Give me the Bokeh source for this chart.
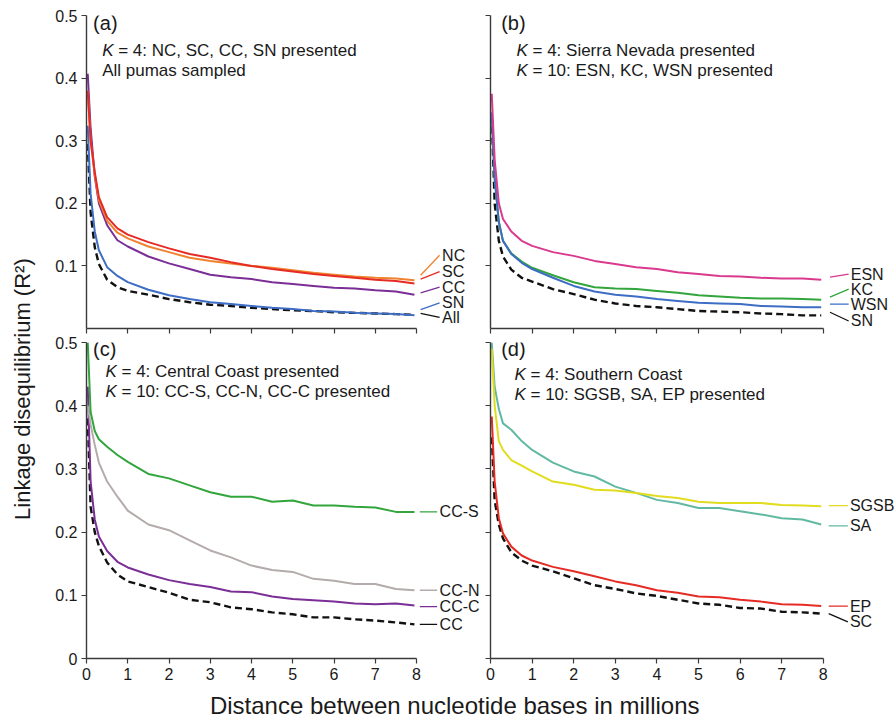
from bokeh.plotting import figure
from bokeh.models import Label, FixedTicker, NumeralTickFormatter, Range1d, CustomJSTickFormatter
from bokeh.layouts import row, column
from bokeh.embed import file_html
from bokeh.resources import INLINE

# ---------------- data ----------------
X = [0.03, 0.1, 0.2, 0.3, 0.5, 0.75, 1, 1.5, 2, 2.5, 3, 3.5, 4, 4.5, 5, 5.5, 6, 6.5, 7, 7.5, 7.95]
X_TICKS = [0, 1, 2, 3, 4, 5, 6, 7, 8]
Y_TICKS_TOP = [0.1, 0.2, 0.3, 0.4, 0.5]
Y_TICKS_BOTTOM = [0, 0.1, 0.2, 0.3, 0.4, 0.5]

# (a) K = 4, all pumas
A_NC = [0.38, 0.30, 0.245, 0.205, 0.172, 0.153, 0.144, 0.131, 0.122, 0.113, 0.108, 0.104, 0.100, 0.097, 0.093, 0.089, 0.086, 0.083, 0.081, 0.080, 0.077]
A_SC = [0.38, 0.30, 0.250, 0.210, 0.178, 0.160, 0.150, 0.138, 0.128, 0.119, 0.113, 0.106, 0.100, 0.095, 0.091, 0.087, 0.084, 0.081, 0.078, 0.076, 0.072]
A_CC = [0.407, 0.32, 0.243, 0.200, 0.165, 0.141, 0.131, 0.115, 0.104, 0.095, 0.086, 0.082, 0.079, 0.074, 0.071, 0.068, 0.065, 0.064, 0.061, 0.059, 0.054]
A_SN = [0.324, 0.215, 0.155, 0.125, 0.098, 0.084, 0.074, 0.062, 0.053, 0.047, 0.042, 0.039, 0.036, 0.033, 0.031, 0.028, 0.027, 0.025, 0.024, 0.023, 0.021]
A_ALL = [0.295, 0.185, 0.130, 0.103, 0.078, 0.066, 0.060, 0.054, 0.047, 0.042, 0.038, 0.036, 0.033, 0.031, 0.029, 0.028, 0.026, 0.025, 0.024, 0.023, 0.022]

# (b) Sierra Nevada
B_ESN = [0.375, 0.27, 0.200, 0.175, 0.155, 0.140, 0.132, 0.122, 0.116, 0.108, 0.103, 0.098, 0.095, 0.090, 0.087, 0.084, 0.083, 0.081, 0.080, 0.080, 0.078]
B_KC = [0.345, 0.24, 0.170, 0.140, 0.120, 0.107, 0.097, 0.085, 0.074, 0.066, 0.064, 0.063, 0.060, 0.057, 0.053, 0.051, 0.049, 0.048, 0.048, 0.047, 0.046]
B_WSN = [0.345, 0.24, 0.170, 0.140, 0.119, 0.105, 0.095, 0.081, 0.068, 0.059, 0.054, 0.051, 0.047, 0.044, 0.041, 0.040, 0.039, 0.036, 0.035, 0.034, 0.034]
B_SN = [0.34, 0.20, 0.140, 0.115, 0.094, 0.081, 0.075, 0.063, 0.055, 0.046, 0.040, 0.036, 0.034, 0.031, 0.028, 0.027, 0.026, 0.024, 0.023, 0.021, 0.021]

# (c) Central Coast
C_CCS = [0.50, 0.39, 0.360, 0.347, 0.335, 0.322, 0.311, 0.292, 0.285, 0.274, 0.263, 0.256, 0.256, 0.248, 0.250, 0.242, 0.242, 0.240, 0.239, 0.232, 0.232]
C_CCN = [0.40, 0.37, 0.338, 0.310, 0.280, 0.256, 0.234, 0.212, 0.203, 0.187, 0.171, 0.160, 0.147, 0.140, 0.137, 0.126, 0.123, 0.118, 0.118, 0.110, 0.108]
C_CCC = [0.43, 0.28, 0.220, 0.193, 0.170, 0.153, 0.144, 0.133, 0.124, 0.118, 0.113, 0.106, 0.105, 0.098, 0.094, 0.092, 0.090, 0.087, 0.086, 0.087, 0.084]
C_CC = [0.38, 0.24, 0.200, 0.178, 0.152, 0.133, 0.122, 0.113, 0.104, 0.093, 0.089, 0.081, 0.078, 0.073, 0.070, 0.065, 0.065, 0.062, 0.060, 0.057, 0.054]

# (d) Southern Coast
D_SGSB = [0.49, 0.40, 0.344, 0.330, 0.314, 0.305, 0.296, 0.280, 0.275, 0.267, 0.266, 0.262, 0.257, 0.254, 0.248, 0.246, 0.246, 0.246, 0.243, 0.242, 0.241]
D_SA = [0.50, 0.43, 0.395, 0.372, 0.362, 0.344, 0.330, 0.310, 0.296, 0.288, 0.272, 0.262, 0.251, 0.246, 0.238, 0.238, 0.233, 0.228, 0.222, 0.220, 0.212]
D_EP = [0.383, 0.28, 0.222, 0.198, 0.177, 0.163, 0.155, 0.145, 0.138, 0.130, 0.122, 0.116, 0.108, 0.104, 0.098, 0.097, 0.093, 0.090, 0.086, 0.085, 0.083]
D_SC = [0.35, 0.25, 0.212, 0.190, 0.168, 0.155, 0.147, 0.138, 0.127, 0.116, 0.110, 0.103, 0.099, 0.093, 0.087, 0.085, 0.080, 0.079, 0.074, 0.073, 0.071]

FONT = "Liberation Sans"
AXC = "#3a3a3a"
TXT = "#1a1a1a"
BLACK = "#111111"

ORANGE = "#F0822F"
RED = "#E62B25"
PURPLE = "#7A2E96"
BLUE = "#3D6DC4"
MAGENTA = "#D93A8E"
GREEN = "#32A53C"
GRAY = "#B4ABAB"
YELLOW = "#E2DC1E"
TEAL = "#62B9A2"

# layout geometry (pixels)
YLAB_W = 48
LEFT_W = 436
RIGHT_W = 412
LEFT_B = 38
RIGHT_B = 6
TOP_H = 335
BOT_H = 353
XT_H = 33
PX_LEFT = 41.25   # pixels per x unit, left column
PX_RIGHT = 41.6   # pixels per x unit, right column


def panel(width, height, left, top, bottom, xend, yticks, xlabels, ylabels):
    p = figure(width=width, height=height, x_range=Range1d(0, xend), y_range=Range1d(0, 0.5),
               output_backend="svg", toolbar_location=None,
               min_border_left=left, min_border_right=0, min_border_top=top, min_border_bottom=bottom)
    p.grid.visible = False
    p.outline_line_color = None
    for ax, ticks, show in ((p.xaxis[0], X_TICKS, xlabels), (p.yaxis[0], yticks, ylabels)):
        ax.ticker = FixedTicker(ticks=ticks)
        ax.axis_line_color = AXC
        ax.axis_line_width = 1.4
        ax.major_tick_line_color = AXC
        ax.major_tick_line_width = 1.2
        ax.major_tick_out = 5
        ax.major_tick_in = 0
        ax.minor_tick_line_color = None
        ax.major_label_text_font = FONT
        ax.major_label_text_color = TXT
        if show:
            ax.major_label_text_font_size = "16px"
            ax.major_label_standoff = 4
        else:
            ax.formatter = CustomJSTickFormatter(code="return ''")
            ax.major_label_text_font_size = "0px"
            ax.major_label_standoff = 0
    p.xaxis[0].bounds = (0, 8)
    p.yaxis[0].bounds = (0, 0.5)
    if ylabels:
        p.yaxis[0].formatter = NumeralTickFormatter(format="0.[0]")
    return p


def add_text(p, x, y, text, size="17px", style="normal", align="left"):
    p.add_layout(Label(x=x, y=y, text=text, text_font=FONT, text_font_size=size,
                       text_font_style=style, text_color=TXT, text_align=align,
                       text_baseline="middle"))


def k_line(p, x, dx, y, rest):
    add_text(p, x, y, "K", style="italic")
    add_text(p, x + dx, y, rest)


def curve(p, ys, color, dashed=False):
    if dashed:
        p.line(X, ys, line_color=BLACK, line_width=2.4, line_dash="7 4")
    else:
        p.line(X, ys, line_color=color, line_width=2.0)


def tag(p, x0, x1, xt, y0, y1, text, color):
    p.segment(x0=[x0], y0=[y0], x1=[x1], y1=[y1], line_color=color, line_width=1.3)
    add_text(p, xt, y1, text, size="16px")


KDX_L = 16 / PX_LEFT
KDX_R = 16 / PX_RIGHT
XEND_L = (LEFT_W - LEFT_B) / PX_LEFT
XEND_R = (RIGHT_W - RIGHT_B) / PX_RIGHT

# ---- (a)
pa = panel(LEFT_W, TOP_H, LEFT_B, 15, 7, XEND_L, Y_TICKS_TOP, False, True)
curve(pa, A_ALL, BLACK, dashed=True)
curve(pa, A_SN, BLUE)
curve(pa, A_CC, PURPLE)
curve(pa, A_NC, ORANGE)
curve(pa, A_SC, RED)
add_text(pa, 0.16, 0.488, "(a)", size="20px")
k_line(pa, 0.38, KDX_L, 0.444, "= 4: NC, SC, CC, SN presented")
add_text(pa, 0.38, 0.412, "All pumas sampled")
tag(pa, 8.10, 8.56, 8.62, 0.085, 0.117, "NC", ORANGE)
tag(pa, 8.10, 8.56, 8.62, 0.079, 0.091, "SC", RED)
tag(pa, 8.10, 8.56, 8.62, 0.057, 0.066, "CC", PURPLE)
tag(pa, 8.10, 8.56, 8.62, 0.030, 0.041, "SN", BLUE)
tag(pa, 8.10, 8.56, 8.62, 0.024, 0.0176, "All", BLACK)

# ---- (b)
pb = panel(RIGHT_W, TOP_H, RIGHT_B, 15, 7, XEND_R, Y_TICKS_TOP, False, False)
curve(pb, B_SN, BLACK, dashed=True)
curve(pb, B_KC, GREEN)
curve(pb, B_WSN, BLUE)
curve(pb, B_ESN, MAGENTA)
add_text(pb, 0.257, 0.488, "(b)", size="20px")
k_line(pb, 0.625, KDX_R, 0.444, "= 4: Sierra Nevada presented")
k_line(pb, 0.625, KDX_R, 0.412, "= 10: ESN, KC, WSN presented")
tag(pb, 8.16, 8.61, 8.66, 0.082, 0.087, "ESN", MAGENTA)
tag(pb, 8.16, 8.61, 8.66, 0.050, 0.063, "KC", GREEN)
tag(pb, 8.16, 8.61, 8.66, 0.039, 0.039, "WSN", BLUE)
tag(pb, 8.16, 8.61, 8.66, 0.026, 0.012, "SN", BLACK)

# ---- (c)
pc = panel(LEFT_W, BOT_H, LEFT_B, 7, 30, XEND_L, Y_TICKS_BOTTOM, True, True)
curve(pc, C_CC, BLACK, dashed=True)
curve(pc, C_CCC, PURPLE)
curve(pc, C_CCN, GRAY)
curve(pc, C_CCS, GREEN)
add_text(pc, 0.16, 0.490, "(c)", size="20px")
k_line(pc, 0.46, KDX_L, 0.454, "= 4: Central Coast presented")
k_line(pc, 0.46, KDX_L, 0.422, "= 10: CC-S, CC-N, CC-C presented")
tag(pc, 8.08, 8.50, 8.56, 0.232, 0.232, "CC-S", GREEN)
tag(pc, 8.08, 8.50, 8.56, 0.108, 0.108, "CC-N", GRAY)
tag(pc, 8.08, 8.50, 8.56, 0.082, 0.082, "CC-C", PURPLE)
tag(pc, 8.08, 8.50, 8.56, 0.054, 0.054, "CC", BLACK)

# ---- (d)
pd = panel(RIGHT_W, BOT_H, RIGHT_B, 7, 30, XEND_R, Y_TICKS_BOTTOM, True, False)
curve(pd, D_SC, BLACK, dashed=True)
curve(pd, D_EP, RED)
curve(pd, D_SA, TEAL)
curve(pd, D_SGSB, YELLOW)
add_text(pd, 0.257, 0.490, "(d)", size="20px")
k_line(pd, 0.577, KDX_R, 0.449, "= 4: Southern Coast")
k_line(pd, 0.577, KDX_R, 0.418, "= 10: SGSB, SA, EP presented")
tag(pd, 8.13, 8.59, 8.64, 0.242, 0.242, "SGSB", YELLOW)
tag(pd, 8.13, 8.59, 8.64, 0.210, 0.210, "SA", TEAL)
tag(pd, 8.13, 8.59, 8.64, 0.083, 0.083, "EP", RED)
tag(pd, 8.13, 8.59, 8.64, 0.071, 0.058, "SC", BLACK)


def strip(width, height):
    s = figure(width=width, height=height, x_range=Range1d(0, 1), y_range=Range1d(0, 1),
               x_axis_type=None, y_axis_type=None, output_backend="svg", toolbar_location=None,
               min_border_left=0, min_border_right=0, min_border_top=0, min_border_bottom=0)
    s.grid.visible = False
    s.outline_line_color = None
    return s


ylab = strip(YLAB_W, TOP_H + BOT_H + XT_H)
ylab.add_layout(Label(x=0.46, y=0.461, text="Linkage disequilibrium (R\u00b2)", angle=1.5707963,
                      text_font=FONT, text_font_size="22px", text_color=TXT,
                      text_align="center", text_baseline="middle"))

xlab = strip(LEFT_W + RIGHT_W, XT_H)
xlab.add_layout(Label(x=0.479, y=0.5, text="Distance between nucleotide bases in millions",
                      text_font=FONT, text_font_size="24px", text_color=TXT,
                      text_align="center", text_baseline="middle"))

layout = row(ylab, column(row(pa, pb), row(pc, pd), xlab))

open("out.html", "w").write(file_html(layout, INLINE))
